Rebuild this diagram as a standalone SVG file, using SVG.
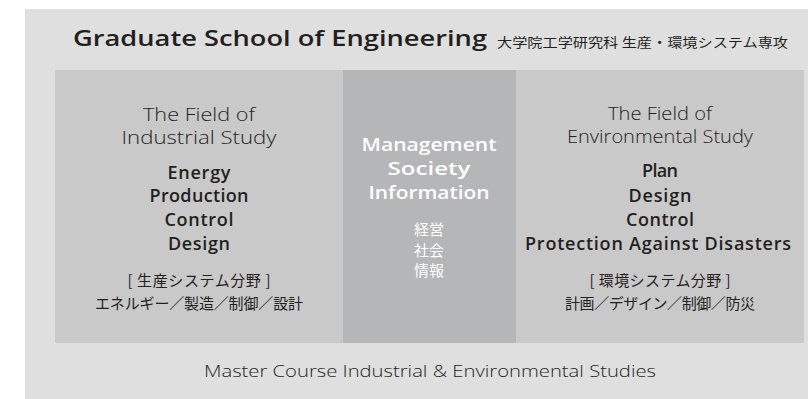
<svg xmlns="http://www.w3.org/2000/svg" width="808" height="399" viewBox="0 0 808 399">
<style>
.en{font-family:"Open Sans","Noto Sans","DejaVu Sans",sans-serif;fill:#231f20;text-anchor:middle}
.jp{font-family:"Noto Sans CJK JP","Noto Sans",sans-serif;fill:#231f20;text-anchor:middle;font-size:15px}
.lt{font-weight:300;font-size:19px}
.bd{font-weight:600;font-size:18px}
.wh{fill:#ffffff}
</style>
<rect x="25" y="9" width="783" height="390" fill="#dfdfdf"/>
<g id="title">
<text class="en" x="73" y="46" style="text-anchor:start;font-weight:600;font-size:22px" textLength="414" lengthAdjust="spacingAndGlyphs">Graduate School of Engineering</text>
<text class="jp" x="497" y="47" style="text-anchor:start;font-size:13px" textLength="291" lengthAdjust="spacingAndGlyphs">大学院工学研究科 生産・環境システム専攻</text>
</g>
<g id="industrial">
<rect x="55" y="70" width="288" height="273" fill="#c9c9ca"/>
<text class="en lt" x="199" y="121" textLength="112" lengthAdjust="spacingAndGlyphs">The Field of</text>
<text class="en lt" x="199" y="144" textLength="155" lengthAdjust="spacingAndGlyphs">Industrial Study</text>
<text class="en bd" x="199" y="179" textLength="63">Energy</text>
<text class="en bd" x="199" y="202" textLength="99">Production</text>
<text class="en bd" x="199" y="226" textLength="69">Control</text>
<text class="en bd" x="199" y="250" textLength="62">Design</text>
<text class="jp" x="199" y="286" textLength="143">[ 生産システム分野 ]</text>
<text class="jp" x="199" y="309" textLength="208">エネルギー／製造／制御／設計</text>
</g>
<g id="management">
<rect x="343" y="70" width="173" height="273" fill="#b5b6b7"/>
<text class="en bd wh" x="429" y="151" textLength="135" lengthAdjust="spacingAndGlyphs">Management</text>
<text class="en bd wh" x="429" y="175" textLength="83" lengthAdjust="spacingAndGlyphs">Society</text>
<text class="en bd wh" x="429" y="199" textLength="121" lengthAdjust="spacingAndGlyphs">Information</text>
<text class="jp wh" x="429" y="235">経営</text>
<text class="jp wh" x="429" y="256">社会</text>
<text class="jp wh" x="429" y="276">情報</text>
</g>
<g id="environmental">
<rect x="516" y="70" width="288" height="273" fill="#c9c9ca"/>
<text class="en lt" x="660" y="120" textLength="104" lengthAdjust="spacingAndGlyphs">The Field of</text>
<text class="en lt" x="660" y="143" textLength="186" lengthAdjust="spacingAndGlyphs">Environmental Study</text>
<text class="en bd" x="660" y="177" textLength="36">Plan</text>
<text class="en bd" x="660" y="202" textLength="63">Design</text>
<text class="en bd" x="660" y="226" textLength="68">Control</text>
<text class="en bd" x="658" y="250" textLength="266">Protection Against Disasters</text>
<text class="jp" x="660" y="286" textLength="141">[ 環境システム分野 ]</text>
<text class="jp" x="660" y="309" textLength="190">計画／デザイン／制御／防災</text>
</g>
<g id="course">
<text class="en" x="430" y="377" style="font-weight:300;font-size:17px" textLength="452" lengthAdjust="spacingAndGlyphs">Master Course Industrial &amp; Environmental Studies</text>
</g>
<g id="connectors"/>
</svg>
